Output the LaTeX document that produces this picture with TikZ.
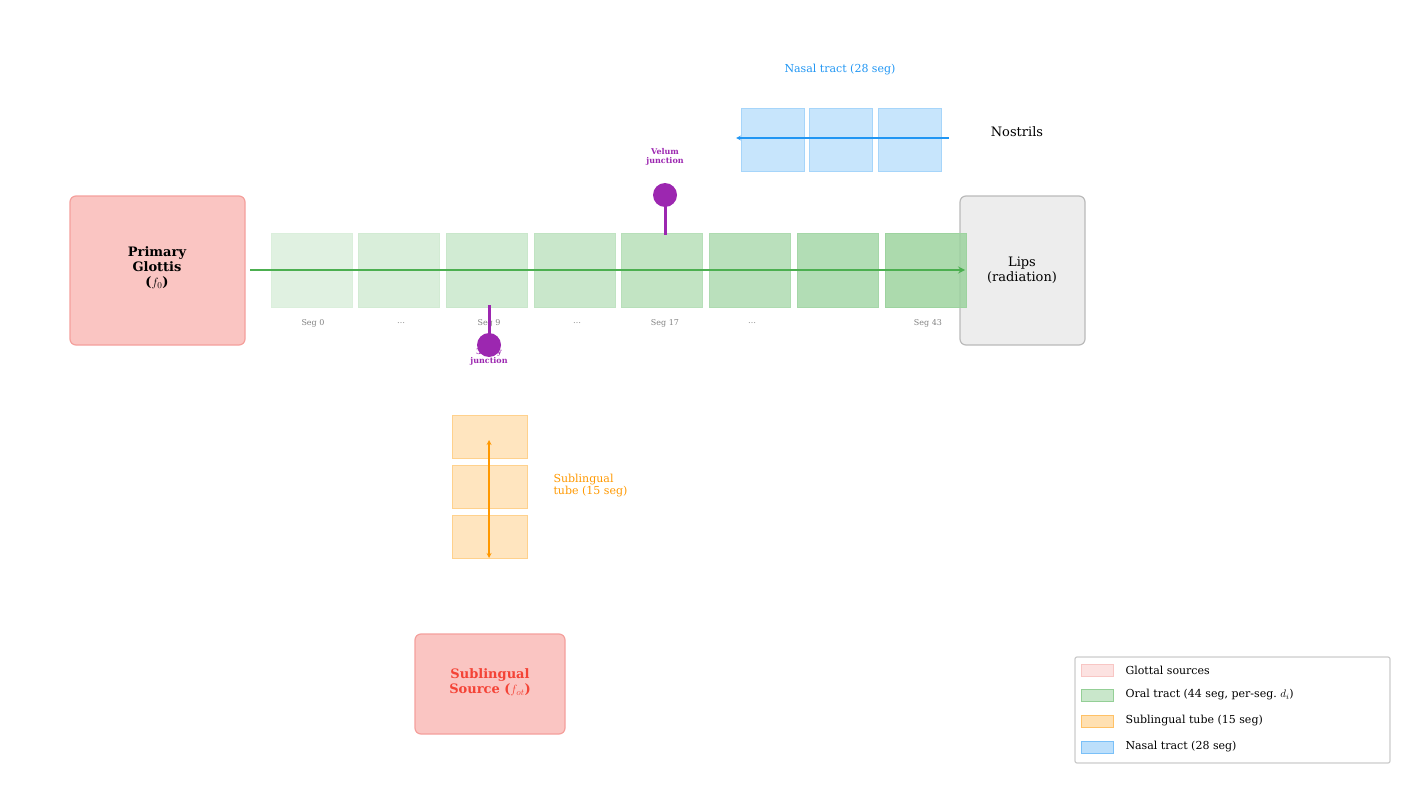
\documentclass[tikz,border=0pt]{standalone}
\usepackage{fontspec}
\setmainfont{DejaVu Serif}
\usetikzlibrary{positioning, calc}
\definecolor{glotfill}{HTML}{FAC5C2}
\definecolor{glotdraw}{HTML}{F4A09C}
\definecolor{oral}{HTML}{4CAF50}
\definecolor{subl}{HTML}{FF9800}
\definecolor{nasal}{HTML}{2196F3}
\definecolor{junc}{HTML}{9C27B0}
\definecolor{srcred}{HTML}{F44336}
\tikzset{
  src/.style={draw=glotdraw, fill=glotfill, line width=1.2pt, rounded corners=6pt},
  seg/.style={line width=1pt},
  seglabel/.style={font=\fontsize{8}{9}\selectfont, text=gray},
  junclabel/.style={font=\fontsize{8}{9}\selectfont\bfseries, text=junc, align=center},
  legbox/.style={line width=1pt, minimum width=32pt, minimum height=12pt}
}
\begin{document}
\begin{tikzpicture}[x=1pt, y=-1pt]
  \useasboundingbox (0,0) rectangle (1419,792);

  % glottis and lips
  \draw[src] (70,196) rectangle (245,345);
  \node[align=center, font=\fontsize{13}{15}\selectfont\bfseries] (glottis) at (157,268) {Primary\\Glottis\\($f_0$)};
  \draw[draw=black!27, fill=black!7, line width=1.2pt, rounded corners=6pt] (960,196) rectangle (1085,345);
  \node[align=center, font=\fontsize{13}{15}\selectfont] (lips) at (1022,270) {Lips\\(radiation)};

  % oral tract
  \foreach \i/\x in {0/271,1/358,2/446,3/534,4/621,5/709,6/797,7/885}{
    \pgfmathsetmacro{\op}{20+5*\i}
    \draw[seg, draw=oral!\op!white, fill=oral!\op!white, fill opacity=0.85] (\x,233) rectangle +(81,74);
  }
  \foreach \x/\t in {313/Seg 0,401/\dots,489/Seg 9,577/\dots,665/Seg 17,752/\dots,928/Seg 43}
    \node[seglabel] at (\x,323) {\t};
  \coordinate (oralstart) at (250,270);
  \coordinate (oralend) at (965,270);
  \draw[oral, line width=2pt, -stealth] (oralstart) -- (oralend);

  % nasal tract
  \foreach \x in {741,809,878}
    \draw[seg, draw=nasal!40!white, fill=nasal!25!white] (\x,108) rectangle +(63,63);
  \node[text=nasal, font=\fontsize{11}{13}\selectfont] (nasallab) at (840,70) {Nasal tract (28 seg)};
  \node[font=\fontsize{13}{15}\selectfont] (nostrils) at (1017,132) {Nostrils};
  \coordinate (nasalin) at (949,138);
  \coordinate (nasalout) at (736,138);
  \draw[nasal, line width=1.2pt, -stealth] (nasalin) -- (nasalout);

  % velum junction
  \node[junclabel] (velumlab) at (665,157) {Velum\\junction};
  \coordinate (velumtop) at (665,195);
  \draw[junc, line width=3pt] (velumtop) -- (665,235);
  \fill[junc] (velumtop) circle (12);

  % 3-way junction
  \node[junclabel] (threelab) at (489,357) {3-way\\junction};
  \coordinate (threebot) at (489,345);
  \draw[junc, line width=3pt] (489,305) -- (threebot);
  \fill[junc] (threebot) circle (12);

  % sublingual tube
  \foreach \y in {415,465,515}
    \draw[seg, draw=subl!45!white, fill=subl!25!white] (452,\y) rectangle +(75,43);
  \coordinate (subtop) at (489,440);
  \coordinate (subbot) at (489,558);
  \draw[subl, line width=1.2pt, stealth-stealth] (subtop) -- (subbot);
  \node[text=subl, align=left, anchor=west, font=\fontsize{11}{12}\selectfont] (sublab) at (550,486) {Sublingual\\tube (15 seg)};

  % sublingual source
  \draw[src] (415,634) rectangle (565,734);
  \node[align=center, text=srcred, font=\fontsize{13}{15}\selectfont\bfseries] (subsrc) at (490,682) {Sublingual\\Source ($f_{ot}$)};

  % legend
  \draw[draw=black!20, fill=white, line width=1.2pt, rounded corners=2pt] (1075,657) rectangle (1390,763);
  \foreach \y/\c/\t in {670/glotdraw/Glottal sources,695/oral/{Oral tract (44 seg, per-seg.\ $d_i$)},721/subl/Sublingual tube (15 seg),747/nasal/Nasal tract (28 seg)}{
    \node[legbox, draw=\c!60!white, fill=\c!30!white] at (1097,\y) {};
    \node[anchor=west, font=\fontsize{11}{13}\selectfont] at (1122,\y) {\t};
  }
\end{tikzpicture}
\end{document}
